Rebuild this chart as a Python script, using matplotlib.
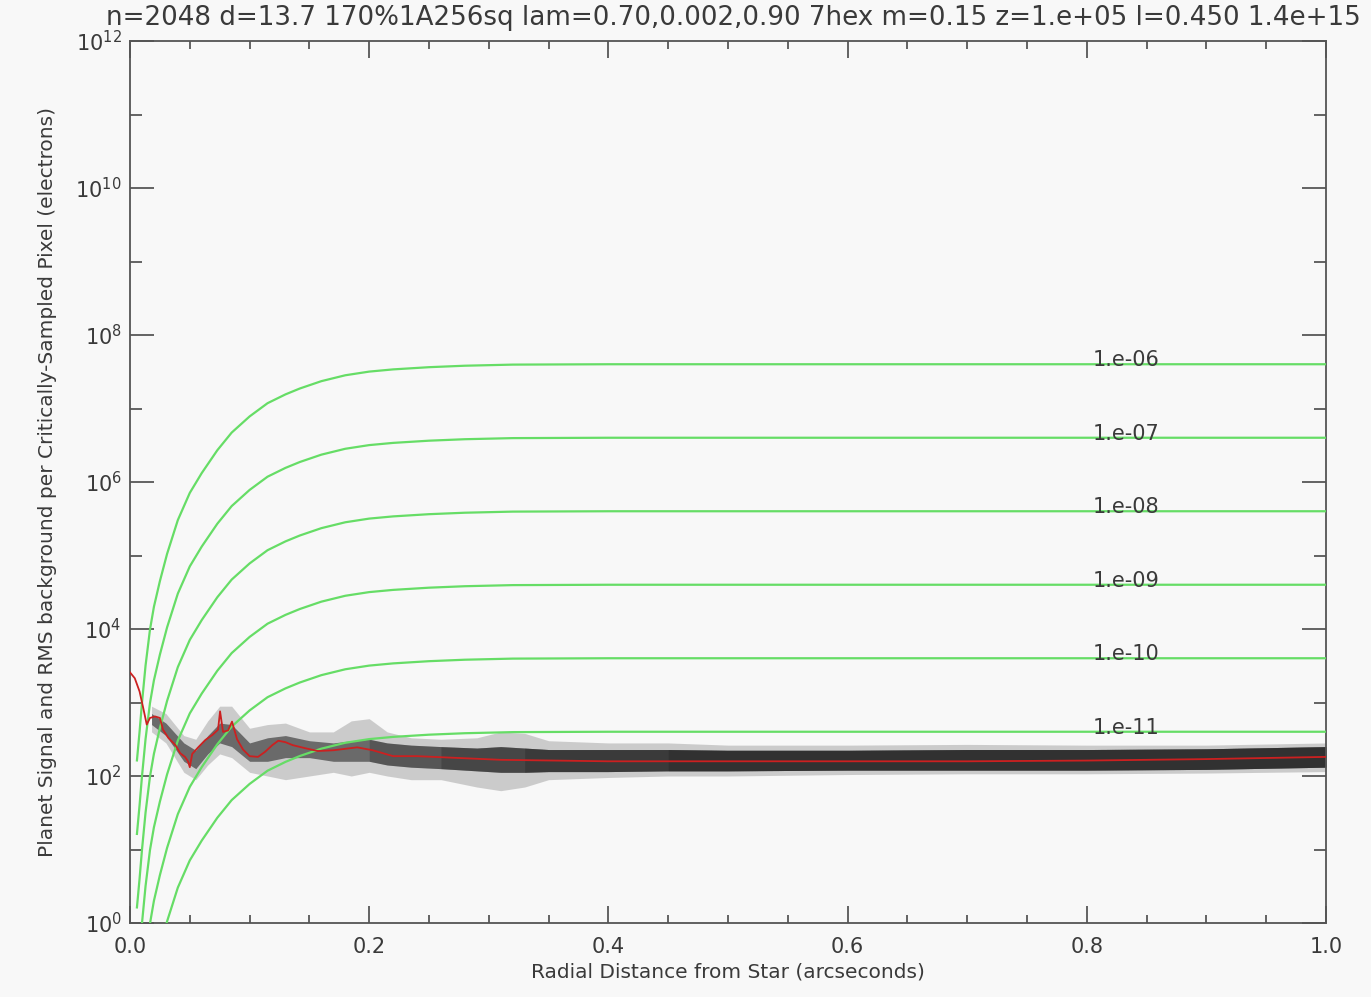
import numpy as np
import matplotlib
matplotlib.use("Agg")
import matplotlib.pyplot as plt

# ---------------- data ----------------
title_text = "n=2048 d=13.7 170%1A256sq lam=0.70,0.002,0.90 7hex m=0.15 z=1.e+05 l=0.450 1.4e+15"

contrasts = ["1.e-06", "1.e-07", "1.e-08", "1.e-09", "1.e-10", "1.e-11"]
plateau_levels = [4.0e7, 4.0e6, 4.0e5, 4.0e4, 4.0e3, 4.0e2]

# throughput profile: log10 offset below plateau vs. radius (arcsec)
profile_x = [0.0058, 0.008, 0.010, 0.013, 0.0167, 0.020, 0.025, 0.031, 0.040,
             0.050, 0.060, 0.073, 0.085, 0.100, 0.115, 0.130, 0.142, 0.160,
             0.180, 0.200, 0.220, 0.250, 0.280, 0.320, 0.400, 1.000]
profile_dex = [-5.39, -5.00, -4.61, -4.10, -3.61, -3.30, -2.95, -2.58, -2.12,
               -1.75, -1.48, -1.17, -0.93, -0.71, -0.53, -0.41, -0.33, -0.23,
               -0.15, -0.10, -0.07, -0.04, -0.02, -0.005, 0.0, 0.0]

# RMS background cloud (log10 electrons)
cloud_x = [0.018, 0.030, 0.045, 0.055, 0.065, 0.075, 0.085, 0.100, 0.115, 0.130,
           0.150, 0.170, 0.185, 0.200, 0.215, 0.235, 0.260, 0.290, 0.310, 0.330,
           0.350, 0.400, 0.450, 0.500, 0.600, 0.700, 0.800, 0.900, 1.000]
cloud_outer_hi = [2.95, 2.85, 2.55, 2.50, 2.75, 2.95, 2.95, 2.65, 2.70, 2.72,
                  2.60, 2.60, 2.75, 2.78, 2.60, 2.52, 2.50, 2.52, 2.60, 2.58,
                  2.48, 2.45, 2.45, 2.42, 2.42, 2.43, 2.42, 2.42, 2.45]
cloud_outer_lo = [2.60, 2.45, 2.05, 1.95, 2.15, 2.30, 2.25, 2.05, 2.00, 1.95,
                  2.00, 2.05, 2.00, 2.05, 2.00, 1.95, 1.95, 1.85, 1.80, 1.85,
                  1.95, 1.98, 2.00, 2.00, 2.02, 2.03, 2.03, 2.04, 2.06]
cloud_core_hi = [2.85, 2.72, 2.45, 2.35, 2.55, 2.72, 2.70, 2.45, 2.52, 2.55,
                 2.48, 2.45, 2.48, 2.50, 2.45, 2.42, 2.40, 2.38, 2.40, 2.38,
                 2.36, 2.36, 2.36, 2.35, 2.35, 2.36, 2.36, 2.37, 2.40]
cloud_core_lo = [2.70, 2.55, 2.20, 2.10, 2.30, 2.45, 2.40, 2.20, 2.20, 2.25,
                 2.25, 2.20, 2.20, 2.20, 2.15, 2.12, 2.10, 2.07, 2.05, 2.05,
                 2.06, 2.06, 2.07, 2.07, 2.08, 2.08, 2.08, 2.09, 2.12]

# median background (red line), log10 electrons
median_x = [0.0, 0.004, 0.008, 0.011, 0.014, 0.0167, 0.021, 0.025, 0.0276, 0.032,
            0.038, 0.042, 0.046, 0.0485, 0.050, 0.052, 0.057, 0.063, 0.069, 0.0736,
            0.0753, 0.0778, 0.082, 0.0853, 0.0895, 0.0945, 0.100, 0.107, 0.113, 0.119,
            0.124, 0.130, 0.136, 0.146, 0.157, 0.170, 0.190, 0.203, 0.220, 0.240,
            0.268, 0.310, 0.400, 0.500, 0.600, 0.700, 0.800, 0.900, 1.000]
median_dex = [3.41, 3.33, 3.15, 2.93, 2.70, 2.79, 2.81, 2.79, 2.63, 2.52,
              2.42, 2.31, 2.26, 2.20, 2.12, 2.30, 2.39, 2.49, 2.56, 2.63,
              2.88, 2.60, 2.62, 2.74, 2.50, 2.36, 2.27, 2.26, 2.33, 2.42,
              2.48, 2.46, 2.42, 2.38, 2.34, 2.35, 2.39, 2.35, 2.27, 2.27,
              2.25, 2.22, 2.20, 2.20, 2.20, 2.20, 2.21, 2.23, 2.26]

x_major = [0.0, 0.2, 0.4, 0.6, 0.8, 1.0]
y_major = [1e0, 1e2, 1e4, 1e6, 1e8, 1e10, 1e12]
y_minor = [1e1, 1e3, 1e5, 1e7, 1e9, 1e11]

# ---------------- figure ----------------
W, H = 1371, 997
bg = "#f8f8f8"
ink = "#3a3a3a"
fig = plt.figure(figsize=(W / 100, H / 100), dpi=100, facecolor=bg)
ax = fig.add_axes([130 / W, 1 - 923 / H, (1326 - 130) / W, (923 - 41) / H])
ax.set_facecolor(bg)
ax.set_yscale("log")
ax.set_xlim(0, 1.0)
ax.set_ylim(1e0, 1e12)

# background cloud: sparse outer envelope and a core that gets denser with radius
cx = np.array(cloud_x)
ax.fill_between(cx, 10 ** np.array(cloud_outer_lo), 10 ** np.array(cloud_outer_hi),
                color="#666666", alpha=0.30, lw=0, zorder=2)
core_lo = 10 ** np.array(cloud_core_lo)
core_hi = 10 ** np.array(cloud_core_hi)
ax.fill_between(cx, core_lo, core_hi, color="#1a1a1a", alpha=0.55, lw=0, zorder=2)
for start in (13, 16, 19, 22):  # successive extra density layers (x >= 0.2, 0.26, 0.35, 0.5)
    ax.fill_between(cx[start:], core_lo[start:], core_hi[start:],
                    color="#111111", alpha=0.22, lw=0, zorder=2)

# planet signal curves
px = np.array(profile_x)
pdex = np.array(profile_dex)
for lab, lev in zip(contrasts, plateau_levels):
    ax.plot(px, lev * 10 ** pdex, color="#66dd66", lw=1.6, zorder=3)
    ax.annotate(lab, xy=(0.805, lev), xytext=(0, -1.5), textcoords="offset points",
                ha="left", va="baseline", fontsize=15, color=ink, zorder=4)

# median background
ax.plot(median_x, 10 ** np.array(median_dex), color="#cc2020", lw=1.3, zorder=4)

# ticks
ax.set_xticks(x_major)
ax.set_xticks(np.arange(0, 1.0001, 0.05), minor=True)
ax.set_xticklabels([f"{v:.1f}" for v in x_major])
ax.set_yticks(y_major)
ax.set_yticks(y_minor, minor=True)
ax.set_yticklabels([r"$10^{%d}$" % int(np.log10(v)) for v in y_major])
ax.yaxis.set_minor_formatter(matplotlib.ticker.NullFormatter())

ax.tick_params(axis="both", which="both", direction="in", top=True, right=True,
               colors=ink, labelcolor=ink, width=1.1, labelsize=15)
ax.tick_params(axis="x", which="major", length=12.5, pad=10)
ax.tick_params(axis="x", which="minor", length=6)
ax.tick_params(axis="y", which="major", length=17, pad=6)
ax.tick_params(axis="y", which="minor", length=8.5)
for s in ax.spines.values():
    s.set_color("#555555")
    s.set_linewidth(1.3)

ax.set_xlabel("Radial Distance from Star (arcseconds)", fontsize=14.5, color=ink)
ax.xaxis.set_label_coords(0.5, (923 - 962) / 882)
ax.set_ylabel("Planet Signal and RMS background per Critically-Sampled Pixel (electrons)",
              fontsize=14.5, color=ink)
ax.yaxis.set_label_coords((57 - 130) / 1196, 0.5)

fig.text(733 / W, 1 - 18 / H, title_text, ha="center", va="center",
         fontsize=18.8, color=ink)

fig.savefig("out.png", dpi=100, facecolor=bg)
